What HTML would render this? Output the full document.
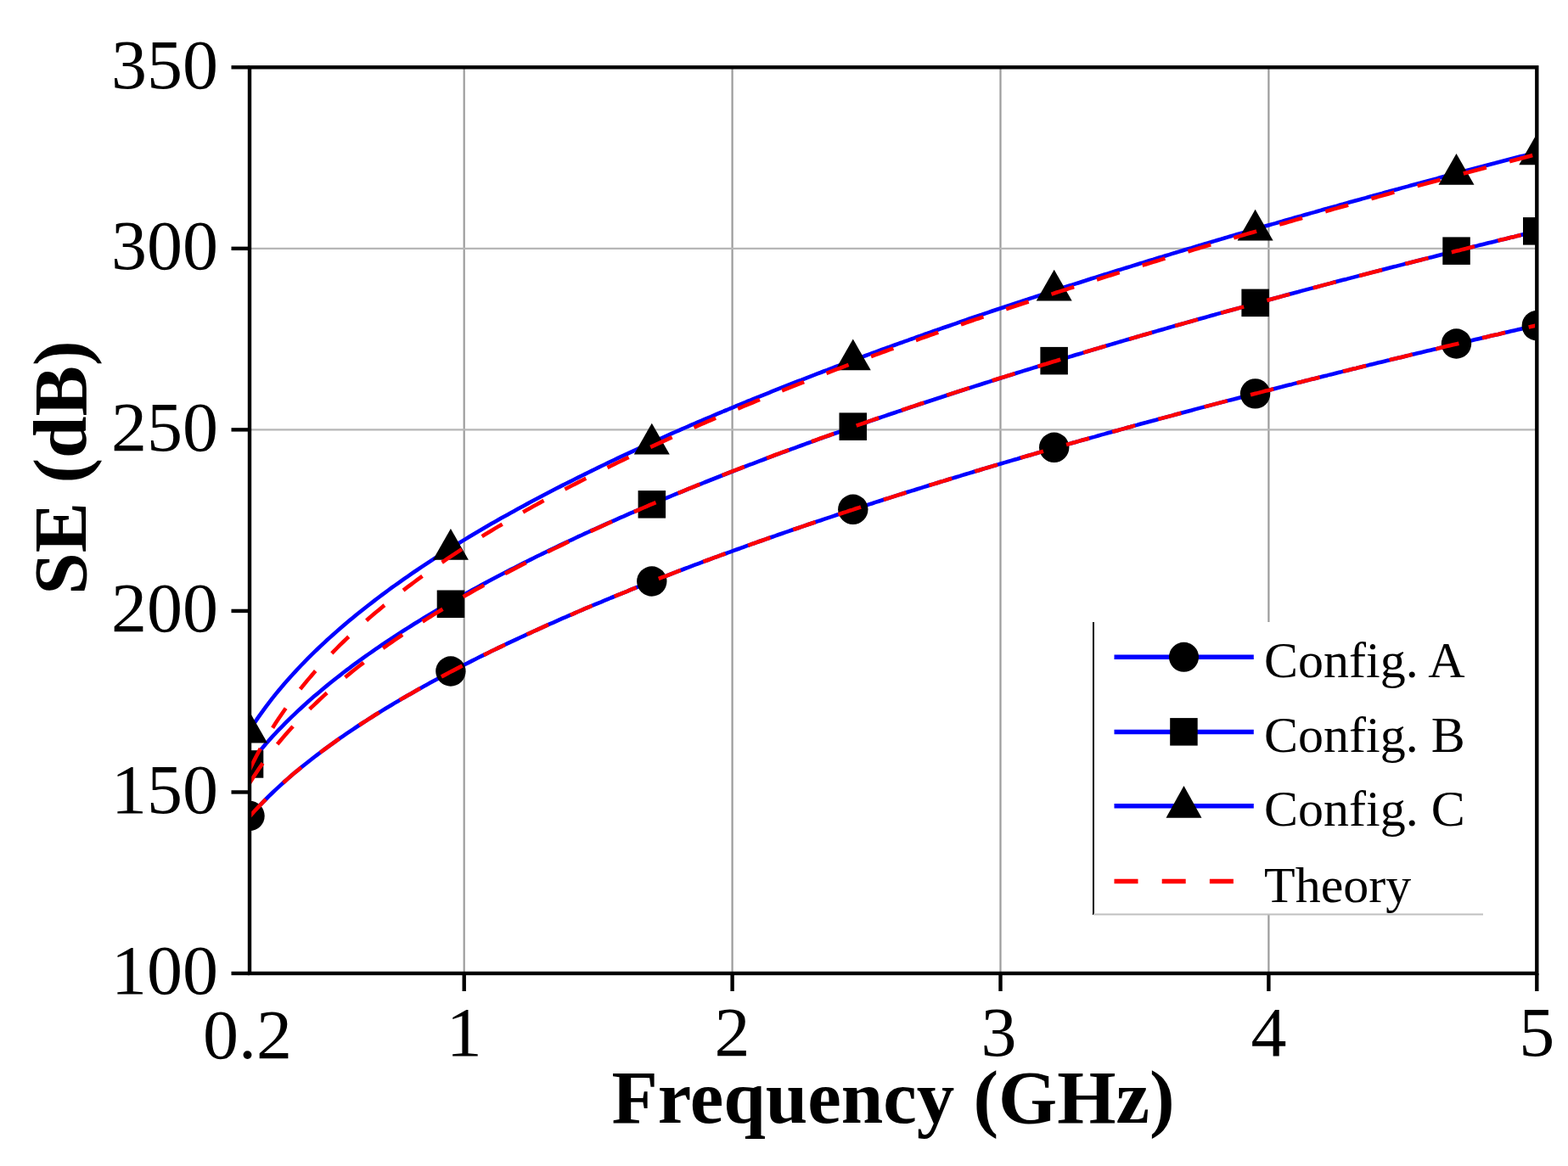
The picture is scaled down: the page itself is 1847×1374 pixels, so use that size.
<!DOCTYPE html>
<html><head><meta charset="utf-8"><title>SE vs Frequency</title>
<style>html,body{margin:0;padding:0;background:#fff;}body{width:1847px;height:1374px;overflow:hidden;}svg{display:block;}</style>
</head><body>
<svg width="1847" height="1374" viewBox="0 0 1847 1374">
<defs><clipPath id="pc"><rect x="294.0" y="79.3" width="1516.3" height="1067.7"/></clipPath></defs>
<rect width="1847" height="1374" fill="#fff"/>
<g stroke-width="2.2"><line x1="546.7" y1="79.3" x2="546.7" y2="1147.0" stroke="#9c9c9c"/><line x1="862.6" y1="79.3" x2="862.6" y2="1147.0" stroke="#9c9c9c"/><line x1="1178.5" y1="79.3" x2="1178.5" y2="1147.0" stroke="#9c9c9c"/><line x1="1494.4" y1="79.3" x2="1494.4" y2="1147.0" stroke="#9c9c9c"/><line x1="294.0" y1="506.4" x2="1810.3" y2="506.4" stroke="#b6b6b6"/><line x1="294.0" y1="292.8" x2="1810.3" y2="292.8" stroke="#b6b6b6"/></g>
<g clip-path="url(#pc)">
<g fill="none" stroke="#0000ff" stroke-width="4.6" stroke-linejoin="round">
<path d="M294.0,962.3 L297.8,958.0 L301.6,953.8 L305.4,949.8 L309.2,945.8 L313.0,942.0 L316.8,938.2 L320.6,934.5 L324.4,930.9 L328.2,927.4 L332.0,923.9 L335.8,920.5 L339.6,917.1 L343.4,913.8 L347.2,910.6 L351.0,907.4 L354.8,904.3 L358.6,901.2 L362.4,898.2 L366.2,895.2 L370.0,892.2 L373.8,889.3 L377.6,886.5 L381.4,883.6 L385.2,880.8 L389.0,878.1 L392.8,875.3 L396.6,872.6 L400.4,869.9 L404.2,867.3 L408.0,864.7 L411.8,862.1 L415.6,859.6 L419.4,857.0 L423.2,854.5 L427.0,852.0 L430.8,849.6 L434.6,847.1 L438.4,844.7 L442.2,842.3 L446.0,840.0 L449.8,837.6 L453.6,835.3 L457.4,833.0 L461.2,830.7 L465.0,828.4 L468.8,826.2 L472.6,823.9 L476.4,821.7 L480.2,819.5 L484.0,817.4 L487.8,815.2 L491.6,813.0 L495.4,810.9 L499.2,808.8 L503.0,806.7 L506.8,804.6 L510.6,802.5 L514.4,800.5 L518.2,798.4 L522.0,796.4 L525.8,794.4 L529.6,792.3 L533.4,790.4 L537.2,788.4 L541.0,786.4 L544.8,784.4 L548.6,782.5 L552.4,780.6 L556.2,778.6 L560.0,776.7 L563.8,774.8 L567.6,772.9 L571.4,771.1 L575.2,769.2 L579.0,767.3 L582.8,765.5 L586.6,763.6 L590.4,761.8 L594.2,760.0 L598.0,758.2 L601.8,756.4 L605.6,754.6 L609.4,752.8 L613.2,751.0 L617.0,749.3 L620.8,747.5 L624.6,745.8 L628.4,744.0 L632.2,742.3 L636.0,740.6 L639.8,738.9 L643.6,737.1 L647.4,735.4 L651.2,733.8 L655.0,732.1 L658.8,730.4 L662.6,728.7 L666.4,727.1 L670.2,725.4 L674.0,723.8 L677.8,722.1 L681.6,720.5 L685.4,718.9 L689.2,717.2 L693.0,715.6 L696.8,714.0 L700.6,712.4 L704.4,710.8 L708.2,709.3 L712.0,707.7 L715.8,706.1 L719.6,704.5 L723.4,703.0 L727.2,701.4 L731.0,699.9 L734.8,698.3 L738.6,696.8 L742.4,695.2 L746.2,693.7 L750.0,692.2 L753.8,690.7 L757.6,689.2 L761.4,687.7 L765.2,686.2 L769.0,684.7 L772.8,683.2 L776.6,681.7 L780.4,680.2 L784.2,678.8 L788.0,677.3 L791.8,675.8 L795.6,674.4 L799.4,672.9 L803.2,671.5 L807.0,670.0 L810.8,668.6 L814.6,667.1 L818.4,665.7 L822.2,664.3 L826.0,662.9 L829.8,661.4 L833.6,660.0 L837.4,658.6 L841.2,657.2 L845.0,655.8 L848.8,654.4 L852.6,653.0 L856.4,651.7 L860.2,650.3 L864.0,648.9 L867.8,647.5 L871.6,646.2 L875.4,644.8 L879.2,643.4 L883.0,642.1 L886.8,640.7 L890.6,639.4 L894.4,638.0 L898.2,636.7 L902.0,635.4 L905.8,634.0 L909.6,632.7 L913.4,631.4 L917.2,630.0 L921.0,628.7 L924.8,627.4 L928.6,626.1 L932.4,624.8 L936.2,623.5 L940.0,622.2 L943.8,620.9 L947.6,619.6 L951.4,618.3 L955.2,617.0 L959.0,615.7 L962.8,614.4 L966.6,613.2 L970.4,611.9 L974.2,610.6 L978.0,609.4 L981.8,608.1 L985.6,606.8 L989.4,605.6 L993.2,604.3 L997.0,603.1 L1000.8,601.8 L1004.6,600.6 L1008.4,599.3 L1012.2,598.1 L1016.0,596.8 L1019.8,595.6 L1023.6,594.4 L1027.4,593.2 L1031.2,591.9 L1035.0,590.7 L1038.8,589.5 L1042.6,588.3 L1046.4,587.1 L1050.2,585.9 L1054.1,584.6 L1057.9,583.4 L1061.7,582.2 L1065.5,581.0 L1069.3,579.8 L1073.1,578.6 L1076.9,577.5 L1080.7,576.3 L1084.5,575.1 L1088.3,573.9 L1092.1,572.7 L1095.9,571.5 L1099.7,570.4 L1103.5,569.2 L1107.3,568.0 L1111.1,566.9 L1114.9,565.7 L1118.7,564.5 L1122.5,563.4 L1126.3,562.2 L1130.1,561.1 L1133.9,559.9 L1137.7,558.7 L1141.5,557.6 L1145.3,556.5 L1149.1,555.3 L1152.9,554.2 L1156.7,553.0 L1160.5,551.9 L1164.3,550.8 L1168.1,549.6 L1171.9,548.5 L1175.7,547.4 L1179.5,546.2 L1183.3,545.1 L1187.1,544.0 L1190.9,542.9 L1194.7,541.8 L1198.5,540.7 L1202.3,539.5 L1206.1,538.4 L1209.9,537.3 L1213.7,536.2 L1217.5,535.1 L1221.3,534.0 L1225.1,532.9 L1228.9,531.8 L1232.7,530.7 L1236.5,529.6 L1240.3,528.5 L1244.1,527.5 L1247.9,526.4 L1251.7,525.3 L1255.5,524.2 L1259.3,523.1 L1263.1,522.0 L1266.9,521.0 L1270.7,519.9 L1274.5,518.8 L1278.3,517.8 L1282.1,516.7 L1285.9,515.6 L1289.7,514.6 L1293.5,513.5 L1297.3,512.4 L1301.1,511.4 L1304.9,510.3 L1308.7,509.3 L1312.5,508.2 L1316.3,507.2 L1320.1,506.1 L1323.9,505.1 L1327.7,504.0 L1331.5,503.0 L1335.3,501.9 L1339.1,500.9 L1342.9,499.8 L1346.7,498.8 L1350.5,497.8 L1354.3,496.7 L1358.1,495.7 L1361.9,494.7 L1365.7,493.6 L1369.5,492.6 L1373.3,491.6 L1377.1,490.6 L1380.9,489.6 L1384.7,488.5 L1388.5,487.5 L1392.3,486.5 L1396.1,485.5 L1399.9,484.5 L1403.7,483.5 L1407.5,482.4 L1411.3,481.4 L1415.1,480.4 L1418.9,479.4 L1422.7,478.4 L1426.5,477.4 L1430.3,476.4 L1434.1,475.4 L1437.9,474.4 L1441.7,473.4 L1445.5,472.4 L1449.3,471.4 L1453.1,470.5 L1456.9,469.5 L1460.7,468.5 L1464.5,467.5 L1468.3,466.5 L1472.1,465.5 L1475.9,464.5 L1479.7,463.6 L1483.5,462.6 L1487.3,461.6 L1491.1,460.6 L1494.9,459.7 L1498.7,458.7 L1502.5,457.7 L1506.3,456.7 L1510.1,455.8 L1513.9,454.8 L1517.7,453.8 L1521.5,452.9 L1525.3,451.9 L1529.1,450.9 L1532.9,450.0 L1536.7,449.0 L1540.5,448.1 L1544.3,447.1 L1548.1,446.2 L1551.9,445.2 L1555.7,444.3 L1559.5,443.3 L1563.3,442.4 L1567.1,441.4 L1570.9,440.5 L1574.7,439.5 L1578.5,438.6 L1582.3,437.6 L1586.1,436.7 L1589.9,435.7 L1593.7,434.8 L1597.5,433.9 L1601.3,432.9 L1605.1,432.0 L1608.9,431.1 L1612.7,430.1 L1616.5,429.2 L1620.3,428.3 L1624.1,427.3 L1627.9,426.4 L1631.7,425.5 L1635.5,424.6 L1639.3,423.6 L1643.1,422.7 L1646.9,421.8 L1650.7,420.9 L1654.5,420.0 L1658.3,419.1 L1662.1,418.1 L1665.9,417.2 L1669.7,416.3 L1673.5,415.4 L1677.3,414.5 L1681.1,413.6 L1684.9,412.7 L1688.7,411.8 L1692.5,410.9 L1696.3,409.9 L1700.1,409.0 L1703.9,408.1 L1707.7,407.2 L1711.5,406.3 L1715.3,405.4 L1719.1,404.5 L1722.9,403.6 L1726.7,402.7 L1730.5,401.9 L1734.3,401.0 L1738.1,400.1 L1741.9,399.2 L1745.7,398.3 L1749.5,397.4 L1753.3,396.5 L1757.1,395.6 L1760.9,394.7 L1764.7,393.9 L1768.5,393.0 L1772.3,392.1 L1776.1,391.2 L1779.9,390.3 L1783.7,389.4 L1787.5,388.6 L1791.3,387.7 L1795.1,386.8 L1798.9,385.9 L1802.7,385.1 L1806.5,384.2 L1810.3,383.3"/>
<path d="M294.0,900.2 L297.8,895.3 L301.6,890.5 L305.4,885.8 L309.2,881.3 L313.0,876.8 L316.8,872.5 L320.6,868.3 L324.4,864.2 L328.2,860.2 L332.0,856.3 L335.8,852.4 L339.6,848.6 L343.4,844.9 L347.2,841.3 L351.0,837.7 L354.8,834.2 L358.6,830.7 L362.4,827.3 L366.2,823.9 L370.0,820.6 L373.8,817.4 L377.6,814.2 L381.4,811.0 L385.2,807.9 L389.0,804.8 L392.8,801.7 L396.6,798.7 L400.4,795.8 L404.2,792.8 L408.0,789.9 L411.8,787.1 L415.6,784.2 L419.4,781.4 L423.2,778.7 L427.0,775.9 L430.8,773.2 L434.6,770.5 L438.4,767.8 L442.2,765.2 L446.0,762.6 L449.8,760.0 L453.6,757.4 L457.4,754.9 L461.2,752.4 L465.0,749.9 L468.8,747.4 L472.6,744.9 L476.4,742.5 L480.2,740.1 L484.0,737.7 L487.8,735.3 L491.6,733.0 L495.4,730.6 L499.2,728.3 L503.0,726.0 L506.8,723.7 L510.6,721.4 L514.4,719.2 L518.2,716.9 L522.0,714.7 L525.8,712.5 L529.6,710.3 L533.4,708.1 L537.2,706.0 L541.0,703.8 L544.8,701.7 L548.6,699.6 L552.4,697.4 L556.2,695.3 L560.0,693.3 L563.8,691.2 L567.6,689.1 L571.4,687.1 L575.2,685.0 L579.0,683.0 L582.8,681.0 L586.6,679.0 L590.4,677.0 L594.2,675.0 L598.0,673.1 L601.8,671.1 L605.6,669.2 L609.4,667.2 L613.2,665.3 L617.0,663.4 L620.8,661.5 L624.6,659.6 L628.4,657.7 L632.2,655.8 L636.0,654.0 L639.8,652.1 L643.6,650.2 L647.4,648.4 L651.2,646.6 L655.0,644.7 L658.8,642.9 L662.6,641.1 L666.4,639.3 L670.2,637.5 L674.0,635.8 L677.8,634.0 L681.6,632.2 L685.4,630.5 L689.2,628.7 L693.0,627.0 L696.8,625.2 L700.6,623.5 L704.4,621.8 L708.2,620.1 L712.0,618.4 L715.8,616.7 L719.6,615.0 L723.4,613.3 L727.2,611.6 L731.0,609.9 L734.8,608.3 L738.6,606.6 L742.4,604.9 L746.2,603.3 L750.0,601.7 L753.8,600.0 L757.6,598.4 L761.4,596.8 L765.2,595.2 L769.0,593.5 L772.8,591.9 L776.6,590.3 L780.4,588.7 L784.2,587.2 L788.0,585.6 L791.8,584.0 L795.6,582.4 L799.4,580.9 L803.2,579.3 L807.0,577.8 L810.8,576.2 L814.6,574.7 L818.4,573.1 L822.2,571.6 L826.0,570.1 L829.8,568.5 L833.6,567.0 L837.4,565.5 L841.2,564.0 L845.0,562.5 L848.8,561.0 L852.6,559.5 L856.4,558.0 L860.2,556.5 L864.0,555.1 L867.8,553.6 L871.6,552.1 L875.4,550.7 L879.2,549.2 L883.0,547.7 L886.8,546.3 L890.6,544.8 L894.4,543.4 L898.2,542.0 L902.0,540.5 L905.8,539.1 L909.6,537.7 L913.4,536.2 L917.2,534.8 L921.0,533.4 L924.8,532.0 L928.6,530.6 L932.4,529.2 L936.2,527.8 L940.0,526.4 L943.8,525.0 L947.6,523.6 L951.4,522.2 L955.2,520.9 L959.0,519.5 L962.8,518.1 L966.6,516.7 L970.4,515.4 L974.2,514.0 L978.0,512.7 L981.8,511.3 L985.6,510.0 L989.4,508.6 L993.2,507.3 L997.0,505.9 L1000.8,504.6 L1004.6,503.3 L1008.4,501.9 L1012.2,500.6 L1016.0,499.3 L1019.8,498.0 L1023.6,496.6 L1027.4,495.3 L1031.2,494.0 L1035.0,492.7 L1038.8,491.4 L1042.6,490.1 L1046.4,488.8 L1050.2,487.5 L1054.1,486.2 L1057.9,484.9 L1061.7,483.7 L1065.5,482.4 L1069.3,481.1 L1073.1,479.8 L1076.9,478.6 L1080.7,477.3 L1084.5,476.0 L1088.3,474.8 L1092.1,473.5 L1095.9,472.2 L1099.7,471.0 L1103.5,469.7 L1107.3,468.5 L1111.1,467.2 L1114.9,466.0 L1118.7,464.8 L1122.5,463.5 L1126.3,462.3 L1130.1,461.0 L1133.9,459.8 L1137.7,458.6 L1141.5,457.4 L1145.3,456.1 L1149.1,454.9 L1152.9,453.7 L1156.7,452.5 L1160.5,451.3 L1164.3,450.1 L1168.1,448.9 L1171.9,447.7 L1175.7,446.5 L1179.5,445.3 L1183.3,444.1 L1187.1,442.9 L1190.9,441.7 L1194.7,440.5 L1198.5,439.3 L1202.3,438.1 L1206.1,436.9 L1209.9,435.8 L1213.7,434.6 L1217.5,433.4 L1221.3,432.2 L1225.1,431.1 L1228.9,429.9 L1232.7,428.7 L1236.5,427.6 L1240.3,426.4 L1244.1,425.2 L1247.9,424.1 L1251.7,422.9 L1255.5,421.8 L1259.3,420.6 L1263.1,419.5 L1266.9,418.3 L1270.7,417.2 L1274.5,416.1 L1278.3,414.9 L1282.1,413.8 L1285.9,412.6 L1289.7,411.5 L1293.5,410.4 L1297.3,409.3 L1301.1,408.1 L1304.9,407.0 L1308.7,405.9 L1312.5,404.8 L1316.3,403.6 L1320.1,402.5 L1323.9,401.4 L1327.7,400.3 L1331.5,399.2 L1335.3,398.1 L1339.1,397.0 L1342.9,395.9 L1346.7,394.8 L1350.5,393.7 L1354.3,392.6 L1358.1,391.5 L1361.9,390.4 L1365.7,389.3 L1369.5,388.2 L1373.3,387.1 L1377.1,386.0 L1380.9,384.9 L1384.7,383.8 L1388.5,382.8 L1392.3,381.7 L1396.1,380.6 L1399.9,379.5 L1403.7,378.5 L1407.5,377.4 L1411.3,376.3 L1415.1,375.2 L1418.9,374.2 L1422.7,373.1 L1426.5,372.0 L1430.3,371.0 L1434.1,369.9 L1437.9,368.9 L1441.7,367.8 L1445.5,366.8 L1449.3,365.7 L1453.1,364.7 L1456.9,363.6 L1460.7,362.6 L1464.5,361.5 L1468.3,360.5 L1472.1,359.4 L1475.9,358.4 L1479.7,357.3 L1483.5,356.3 L1487.3,355.3 L1491.1,354.2 L1494.9,353.2 L1498.7,352.2 L1502.5,351.1 L1506.3,350.1 L1510.1,349.1 L1513.9,348.0 L1517.7,347.0 L1521.5,346.0 L1525.3,345.0 L1529.1,344.0 L1532.9,342.9 L1536.7,341.9 L1540.5,340.9 L1544.3,339.9 L1548.1,338.9 L1551.9,337.9 L1555.7,336.9 L1559.5,335.9 L1563.3,334.9 L1567.1,333.9 L1570.9,332.8 L1574.7,331.8 L1578.5,330.8 L1582.3,329.8 L1586.1,328.9 L1589.9,327.9 L1593.7,326.9 L1597.5,325.9 L1601.3,324.9 L1605.1,323.9 L1608.9,322.9 L1612.7,321.9 L1616.5,320.9 L1620.3,319.9 L1624.1,319.0 L1627.9,318.0 L1631.7,317.0 L1635.5,316.0 L1639.3,315.0 L1643.1,314.1 L1646.9,313.1 L1650.7,312.1 L1654.5,311.1 L1658.3,310.2 L1662.1,309.2 L1665.9,308.2 L1669.7,307.3 L1673.5,306.3 L1677.3,305.3 L1681.1,304.4 L1684.9,303.4 L1688.7,302.5 L1692.5,301.5 L1696.3,300.5 L1700.1,299.6 L1703.9,298.6 L1707.7,297.7 L1711.5,296.7 L1715.3,295.8 L1719.1,294.8 L1722.9,293.9 L1726.7,292.9 L1730.5,292.0 L1734.3,291.0 L1738.1,290.1 L1741.9,289.1 L1745.7,288.2 L1749.5,287.3 L1753.3,286.3 L1757.1,285.4 L1760.9,284.5 L1764.7,283.5 L1768.5,282.6 L1772.3,281.7 L1776.1,280.7 L1779.9,279.8 L1783.7,278.9 L1787.5,277.9 L1791.3,277.0 L1795.1,276.1 L1798.9,275.2 L1802.7,274.2 L1806.5,273.3 L1810.3,272.4"/>
<path d="M294.0,860.7 L297.8,854.8 L301.6,849.1 L305.4,843.6 L309.2,838.3 L313.0,833.1 L316.8,828.1 L320.6,823.2 L324.4,818.4 L328.2,813.8 L332.0,809.3 L335.8,804.8 L339.6,800.5 L343.4,796.2 L347.2,792.1 L351.0,788.0 L354.8,784.0 L358.6,780.1 L362.4,776.2 L366.2,772.4 L370.0,768.7 L373.8,765.0 L377.6,761.4 L381.4,757.8 L385.2,754.3 L389.0,750.9 L392.8,747.5 L396.6,744.1 L400.4,740.8 L404.2,737.5 L408.0,734.3 L411.8,731.1 L415.6,727.9 L419.4,724.8 L423.2,721.8 L427.0,718.7 L430.8,715.7 L434.6,712.7 L438.4,709.8 L442.2,706.9 L446.0,704.0 L449.8,701.1 L453.6,698.3 L457.4,695.5 L461.2,692.7 L465.0,690.0 L468.8,687.3 L472.6,684.6 L476.4,681.9 L480.2,679.3 L484.0,676.6 L487.8,674.0 L491.6,671.5 L495.4,668.9 L499.2,666.4 L503.0,663.8 L506.8,661.3 L510.6,658.9 L514.4,656.4 L518.2,654.0 L522.0,651.5 L525.8,649.1 L529.6,646.7 L533.4,644.4 L537.2,642.0 L541.0,639.7 L544.8,637.4 L548.6,635.1 L552.4,632.8 L556.2,630.5 L560.0,628.2 L563.8,626.0 L567.6,623.8 L571.4,621.5 L575.2,619.3 L579.0,617.1 L582.8,615.0 L586.6,612.8 L590.4,610.6 L594.2,608.5 L598.0,606.4 L601.8,604.3 L605.6,602.2 L609.4,600.1 L613.2,598.0 L617.0,595.9 L620.8,593.9 L624.6,591.8 L628.4,589.8 L632.2,587.8 L636.0,585.8 L639.8,583.8 L643.6,581.8 L647.4,579.8 L651.2,577.8 L655.0,575.8 L658.8,573.9 L662.6,571.9 L666.4,570.0 L670.2,568.1 L674.0,566.2 L677.8,564.3 L681.6,562.4 L685.4,560.5 L689.2,558.6 L693.0,556.7 L696.8,554.9 L700.6,553.0 L704.4,551.2 L708.2,549.3 L712.0,547.5 L715.8,545.7 L719.6,543.8 L723.4,542.0 L727.2,540.2 L731.0,538.4 L734.8,536.7 L738.6,534.9 L742.4,533.1 L746.2,531.3 L750.0,529.6 L753.8,527.8 L757.6,526.1 L761.4,524.4 L765.2,522.6 L769.0,520.9 L772.8,519.2 L776.6,517.5 L780.4,515.8 L784.2,514.1 L788.0,512.4 L791.8,510.7 L795.6,509.0 L799.4,507.4 L803.2,505.7 L807.0,504.0 L810.8,502.4 L814.6,500.7 L818.4,499.1 L822.2,497.4 L826.0,495.8 L829.8,494.2 L833.6,492.6 L837.4,491.0 L841.2,489.3 L845.0,487.7 L848.8,486.1 L852.6,484.5 L856.4,483.0 L860.2,481.4 L864.0,479.8 L867.8,478.2 L871.6,476.7 L875.4,475.1 L879.2,473.5 L883.0,472.0 L886.8,470.4 L890.6,468.9 L894.4,467.4 L898.2,465.8 L902.0,464.3 L905.8,462.8 L909.6,461.2 L913.4,459.7 L917.2,458.2 L921.0,456.7 L924.8,455.2 L928.6,453.7 L932.4,452.2 L936.2,450.7 L940.0,449.2 L943.8,447.8 L947.6,446.3 L951.4,444.8 L955.2,443.3 L959.0,441.9 L962.8,440.4 L966.6,439.0 L970.4,437.5 L974.2,436.1 L978.0,434.6 L981.8,433.2 L985.6,431.7 L989.4,430.3 L993.2,428.9 L997.0,427.5 L1000.8,426.0 L1004.6,424.6 L1008.4,423.2 L1012.2,421.8 L1016.0,420.4 L1019.8,419.0 L1023.6,417.6 L1027.4,416.2 L1031.2,414.8 L1035.0,413.4 L1038.8,412.0 L1042.6,410.6 L1046.4,409.3 L1050.2,407.9 L1054.1,406.5 L1057.9,405.1 L1061.7,403.8 L1065.5,402.4 L1069.3,401.1 L1073.1,399.7 L1076.9,398.4 L1080.7,397.0 L1084.5,395.7 L1088.3,394.3 L1092.1,393.0 L1095.9,391.6 L1099.7,390.3 L1103.5,389.0 L1107.3,387.6 L1111.1,386.3 L1114.9,385.0 L1118.7,383.7 L1122.5,382.4 L1126.3,381.1 L1130.1,379.7 L1133.9,378.4 L1137.7,377.1 L1141.5,375.8 L1145.3,374.5 L1149.1,373.2 L1152.9,371.9 L1156.7,370.7 L1160.5,369.4 L1164.3,368.1 L1168.1,366.8 L1171.9,365.5 L1175.7,364.2 L1179.5,363.0 L1183.3,361.7 L1187.1,360.4 L1190.9,359.2 L1194.7,357.9 L1198.5,356.6 L1202.3,355.4 L1206.1,354.1 L1209.9,352.9 L1213.7,351.6 L1217.5,350.4 L1221.3,349.1 L1225.1,347.9 L1228.9,346.7 L1232.7,345.4 L1236.5,344.2 L1240.3,343.0 L1244.1,341.7 L1247.9,340.5 L1251.7,339.3 L1255.5,338.0 L1259.3,336.8 L1263.1,335.6 L1266.9,334.4 L1270.7,333.2 L1274.5,332.0 L1278.3,330.8 L1282.1,329.5 L1285.9,328.3 L1289.7,327.1 L1293.5,325.9 L1297.3,324.7 L1301.1,323.5 L1304.9,322.4 L1308.7,321.2 L1312.5,320.0 L1316.3,318.8 L1320.1,317.6 L1323.9,316.4 L1327.7,315.2 L1331.5,314.1 L1335.3,312.9 L1339.1,311.7 L1342.9,310.5 L1346.7,309.4 L1350.5,308.2 L1354.3,307.0 L1358.1,305.9 L1361.9,304.7 L1365.7,303.5 L1369.5,302.4 L1373.3,301.2 L1377.1,300.1 L1380.9,298.9 L1384.7,297.8 L1388.5,296.6 L1392.3,295.5 L1396.1,294.3 L1399.9,293.2 L1403.7,292.1 L1407.5,290.9 L1411.3,289.8 L1415.1,288.6 L1418.9,287.5 L1422.7,286.4 L1426.5,285.3 L1430.3,284.1 L1434.1,283.0 L1437.9,281.9 L1441.7,280.8 L1445.5,279.6 L1449.3,278.5 L1453.1,277.4 L1456.9,276.3 L1460.7,275.2 L1464.5,274.1 L1468.3,273.0 L1472.1,271.9 L1475.9,270.7 L1479.7,269.6 L1483.5,268.5 L1487.3,267.4 L1491.1,266.3 L1494.9,265.2 L1498.7,264.1 L1502.5,263.1 L1506.3,262.0 L1510.1,260.9 L1513.9,259.8 L1517.7,258.7 L1521.5,257.6 L1525.3,256.5 L1529.1,255.4 L1532.9,254.4 L1536.7,253.3 L1540.5,252.2 L1544.3,251.1 L1548.1,250.1 L1551.9,249.0 L1555.7,247.9 L1559.5,246.8 L1563.3,245.8 L1567.1,244.7 L1570.9,243.6 L1574.7,242.6 L1578.5,241.5 L1582.3,240.5 L1586.1,239.4 L1589.9,238.3 L1593.7,237.3 L1597.5,236.2 L1601.3,235.2 L1605.1,234.1 L1608.9,233.1 L1612.7,232.0 L1616.5,231.0 L1620.3,229.9 L1624.1,228.9 L1627.9,227.9 L1631.7,226.8 L1635.5,225.8 L1639.3,224.7 L1643.1,223.7 L1646.9,222.7 L1650.7,221.6 L1654.5,220.6 L1658.3,219.6 L1662.1,218.5 L1665.9,217.5 L1669.7,216.5 L1673.5,215.5 L1677.3,214.4 L1681.1,213.4 L1684.9,212.4 L1688.7,211.4 L1692.5,210.4 L1696.3,209.3 L1700.1,208.3 L1703.9,207.3 L1707.7,206.3 L1711.5,205.3 L1715.3,204.3 L1719.1,203.3 L1722.9,202.3 L1726.7,201.3 L1730.5,200.2 L1734.3,199.2 L1738.1,198.2 L1741.9,197.2 L1745.7,196.2 L1749.5,195.2 L1753.3,194.2 L1757.1,193.2 L1760.9,192.3 L1764.7,191.3 L1768.5,190.3 L1772.3,189.3 L1776.1,188.3 L1779.9,187.3 L1783.7,186.3 L1787.5,185.3 L1791.3,184.3 L1795.1,183.4 L1798.9,182.4 L1802.7,181.4 L1806.5,180.4 L1810.3,179.4"/>
</g>
<g fill="#000"><circle cx="294.0" cy="961.4" r="17.7"/>
<circle cx="530.9" cy="791.0" r="17.7"/>
<circle cx="767.8" cy="685.0" r="17.7"/>
<circle cx="1004.8" cy="600.3" r="17.7"/>
<circle cx="1241.7" cy="527.3" r="17.7"/>
<circle cx="1478.6" cy="463.9" r="17.7"/>
<circle cx="1715.5" cy="405.0" r="17.7"/>
<circle cx="1810.3" cy="383.7" r="17.7"/><rect x="277.8" y="884.2" width="32.5" height="32.5"/>
<rect x="514.7" y="695.5" width="32.5" height="32.5"/>
<rect x="751.6" y="578.1" width="32.5" height="32.5"/>
<rect x="988.5" y="486.4" width="32.5" height="32.5"/>
<rect x="1225.4" y="408.9" width="32.5" height="32.5"/>
<rect x="1462.4" y="340.6" width="32.5" height="32.5"/>
<rect x="1699.3" y="279.4" width="32.5" height="32.5"/>
<rect x="1794.0" y="256.1" width="32.5" height="32.5"/><path d="M294.0,838.7 L315.0,875.5 L273.0,875.5 Z"/>
<path d="M530.9,622.9 L551.9,659.7 L509.9,659.7 Z"/>
<path d="M767.8,498.7 L788.8,535.5 L746.8,535.5 Z"/>
<path d="M1004.8,399.5 L1025.8,436.3 L983.8,436.3 Z"/>
<path d="M1241.7,317.7 L1262.7,354.5 L1220.7,354.5 Z"/>
<path d="M1478.6,246.8 L1499.6,283.6 L1457.6,283.6 Z"/>
<path d="M1715.5,180.9 L1736.5,217.7 L1694.5,217.7 Z"/>
<path d="M1810.3,157.4 L1831.3,194.2 L1789.3,194.2 Z"/></g>
<g fill="none" stroke="#ff0000" stroke-width="4.6" stroke-dasharray="28 28.2">
<path d="M294.0,962.3 L297.8,958.0 L301.6,953.8 L305.4,949.8 L309.2,945.8 L313.0,942.0 L316.8,938.2 L320.6,934.5 L324.4,930.9 L328.2,927.4 L332.0,923.9 L335.8,920.5 L339.6,917.1 L343.4,913.8 L347.2,910.6 L351.0,907.4 L354.8,904.3 L358.6,901.2 L362.4,898.2 L366.2,895.2 L370.0,892.2 L373.8,889.3 L377.6,886.5 L381.4,883.6 L385.2,880.8 L389.0,878.1 L392.8,875.3 L396.6,872.6 L400.4,869.9 L404.2,867.3 L408.0,864.7 L411.8,862.1 L415.6,859.6 L419.4,857.0 L423.2,854.5 L427.0,852.0 L430.8,849.6 L434.6,847.1 L438.4,844.7 L442.2,842.3 L446.0,840.0 L449.8,837.6 L453.6,835.3 L457.4,833.0 L461.2,830.7 L465.0,828.4 L468.8,826.2 L472.6,823.9 L476.4,821.7 L480.2,819.5 L484.0,817.4 L487.8,815.2 L491.6,813.0 L495.4,810.9 L499.2,808.8 L503.0,806.7 L506.8,804.6 L510.6,802.5 L514.4,800.5 L518.2,798.4 L522.0,796.4 L525.8,794.4 L529.6,792.3 L533.4,790.4 L537.2,788.4 L541.0,786.4 L544.8,784.4 L548.6,782.5 L552.4,780.6 L556.2,778.6 L560.0,776.7 L563.8,774.8 L567.6,772.9 L571.4,771.1 L575.2,769.2 L579.0,767.3 L582.8,765.5 L586.6,763.6 L590.4,761.8 L594.2,760.0 L598.0,758.2 L601.8,756.4 L605.6,754.6 L609.4,752.8 L613.2,751.0 L617.0,749.3 L620.8,747.5 L624.6,745.8 L628.4,744.0 L632.2,742.3 L636.0,740.6 L639.8,738.9 L643.6,737.1 L647.4,735.4 L651.2,733.8 L655.0,732.1 L658.8,730.4 L662.6,728.7 L666.4,727.1 L670.2,725.4 L674.0,723.8 L677.8,722.1 L681.6,720.5 L685.4,718.9 L689.2,717.2 L693.0,715.6 L696.8,714.0 L700.6,712.4 L704.4,710.8 L708.2,709.3 L712.0,707.7 L715.8,706.1 L719.6,704.5 L723.4,703.0 L727.2,701.4 L731.0,699.9 L734.8,698.3 L738.6,696.8 L742.4,695.2 L746.2,693.7 L750.0,692.2 L753.8,690.7 L757.6,689.2 L761.4,687.7 L765.2,686.2 L769.0,684.7 L772.8,683.2 L776.6,681.7 L780.4,680.2 L784.2,678.8 L788.0,677.3 L791.8,675.8 L795.6,674.4 L799.4,672.9 L803.2,671.5 L807.0,670.0 L810.8,668.6 L814.6,667.1 L818.4,665.7 L822.2,664.3 L826.0,662.9 L829.8,661.4 L833.6,660.0 L837.4,658.6 L841.2,657.2 L845.0,655.8 L848.8,654.4 L852.6,653.0 L856.4,651.7 L860.2,650.3 L864.0,648.9 L867.8,647.5 L871.6,646.2 L875.4,644.8 L879.2,643.4 L883.0,642.1 L886.8,640.7 L890.6,639.4 L894.4,638.0 L898.2,636.7 L902.0,635.4 L905.8,634.0 L909.6,632.7 L913.4,631.4 L917.2,630.0 L921.0,628.7 L924.8,627.4 L928.6,626.1 L932.4,624.8 L936.2,623.5 L940.0,622.2 L943.8,620.9 L947.6,619.6 L951.4,618.3 L955.2,617.0 L959.0,615.7 L962.8,614.4 L966.6,613.2 L970.4,611.9 L974.2,610.6 L978.0,609.4 L981.8,608.1 L985.6,606.8 L989.4,605.6 L993.2,604.3 L997.0,603.1 L1000.8,601.8 L1004.6,600.6 L1008.4,599.3 L1012.2,598.1 L1016.0,596.8 L1019.8,595.6 L1023.6,594.4 L1027.4,593.2 L1031.2,591.9 L1035.0,590.7 L1038.8,589.5 L1042.6,588.3 L1046.4,587.1 L1050.2,585.9 L1054.1,584.6 L1057.9,583.4 L1061.7,582.2 L1065.5,581.0 L1069.3,579.8 L1073.1,578.6 L1076.9,577.5 L1080.7,576.3 L1084.5,575.1 L1088.3,573.9 L1092.1,572.7 L1095.9,571.5 L1099.7,570.4 L1103.5,569.2 L1107.3,568.0 L1111.1,566.9 L1114.9,565.7 L1118.7,564.5 L1122.5,563.4 L1126.3,562.2 L1130.1,561.1 L1133.9,559.9 L1137.7,558.7 L1141.5,557.6 L1145.3,556.5 L1149.1,555.3 L1152.9,554.2 L1156.7,553.0 L1160.5,551.9 L1164.3,550.8 L1168.1,549.6 L1171.9,548.5 L1175.7,547.4 L1179.5,546.2 L1183.3,545.1 L1187.1,544.0 L1190.9,542.9 L1194.7,541.8 L1198.5,540.7 L1202.3,539.5 L1206.1,538.4 L1209.9,537.3 L1213.7,536.2 L1217.5,535.1 L1221.3,534.0 L1225.1,532.9 L1228.9,531.8 L1232.7,530.7 L1236.5,529.6 L1240.3,528.5 L1244.1,527.5 L1247.9,526.4 L1251.7,525.3 L1255.5,524.2 L1259.3,523.1 L1263.1,522.0 L1266.9,521.0 L1270.7,519.9 L1274.5,518.8 L1278.3,517.8 L1282.1,516.7 L1285.9,515.6 L1289.7,514.6 L1293.5,513.5 L1297.3,512.4 L1301.1,511.4 L1304.9,510.3 L1308.7,509.3 L1312.5,508.2 L1316.3,507.2 L1320.1,506.1 L1323.9,505.1 L1327.7,504.0 L1331.5,503.0 L1335.3,501.9 L1339.1,500.9 L1342.9,499.8 L1346.7,498.8 L1350.5,497.8 L1354.3,496.7 L1358.1,495.7 L1361.9,494.7 L1365.7,493.6 L1369.5,492.6 L1373.3,491.6 L1377.1,490.6 L1380.9,489.6 L1384.7,488.5 L1388.5,487.5 L1392.3,486.5 L1396.1,485.5 L1399.9,484.5 L1403.7,483.5 L1407.5,482.4 L1411.3,481.4 L1415.1,480.4 L1418.9,479.4 L1422.7,478.4 L1426.5,477.4 L1430.3,476.4 L1434.1,475.4 L1437.9,474.4 L1441.7,473.4 L1445.5,472.4 L1449.3,471.4 L1453.1,470.5 L1456.9,469.5 L1460.7,468.5 L1464.5,467.5 L1468.3,466.5 L1472.1,465.5 L1475.9,464.5 L1479.7,463.6 L1483.5,462.6 L1487.3,461.6 L1491.1,460.6 L1494.9,459.7 L1498.7,458.7 L1502.5,457.7 L1506.3,456.7 L1510.1,455.8 L1513.9,454.8 L1517.7,453.8 L1521.5,452.9 L1525.3,451.9 L1529.1,450.9 L1532.9,450.0 L1536.7,449.0 L1540.5,448.1 L1544.3,447.1 L1548.1,446.2 L1551.9,445.2 L1555.7,444.3 L1559.5,443.3 L1563.3,442.4 L1567.1,441.4 L1570.9,440.5 L1574.7,439.5 L1578.5,438.6 L1582.3,437.6 L1586.1,436.7 L1589.9,435.7 L1593.7,434.8 L1597.5,433.9 L1601.3,432.9 L1605.1,432.0 L1608.9,431.1 L1612.7,430.1 L1616.5,429.2 L1620.3,428.3 L1624.1,427.3 L1627.9,426.4 L1631.7,425.5 L1635.5,424.6 L1639.3,423.6 L1643.1,422.7 L1646.9,421.8 L1650.7,420.9 L1654.5,420.0 L1658.3,419.1 L1662.1,418.1 L1665.9,417.2 L1669.7,416.3 L1673.5,415.4 L1677.3,414.5 L1681.1,413.6 L1684.9,412.7 L1688.7,411.8 L1692.5,410.9 L1696.3,409.9 L1700.1,409.0 L1703.9,408.1 L1707.7,407.2 L1711.5,406.3 L1715.3,405.4 L1719.1,404.5 L1722.9,403.6 L1726.7,402.7 L1730.5,401.9 L1734.3,401.0 L1738.1,400.1 L1741.9,399.2 L1745.7,398.3 L1749.5,397.4 L1753.3,396.5 L1757.1,395.6 L1760.9,394.7 L1764.7,393.9 L1768.5,393.0 L1772.3,392.1 L1776.1,391.2 L1779.9,390.3 L1783.7,389.4 L1787.5,388.6 L1791.3,387.7 L1795.1,386.8 L1798.9,385.9 L1802.7,385.1 L1806.5,384.2 L1810.3,383.3"/>
<path d="M294.0,922.7 L297.8,916.7 L301.6,910.9 L305.4,905.3 L309.2,899.9 L313.0,894.7 L316.8,889.6 L320.6,884.7 L324.4,879.9 L328.2,875.2 L332.0,870.7 L335.8,866.3 L339.6,862.0 L343.4,857.8 L347.2,853.6 L351.0,849.6 L354.8,845.6 L358.6,841.8 L362.4,838.0 L366.2,834.2 L370.0,830.6 L373.8,827.0 L377.6,823.4 L381.4,819.9 L385.2,816.5 L389.0,813.1 L392.8,809.8 L396.6,806.5 L400.4,803.3 L404.2,800.1 L408.0,797.0 L411.8,793.9 L415.6,790.8 L419.4,787.8 L423.2,784.8 L427.0,781.9 L430.8,779.0 L434.6,776.1 L438.4,773.3 L442.2,770.4 L446.0,767.7 L449.8,764.9 L453.6,762.2 L457.4,759.5 L461.2,756.8 L465.0,754.2 L468.8,751.6 L472.6,749.0 L476.4,746.4 L480.2,743.9 L484.0,741.4 L487.8,738.9 L491.6,736.4 L495.4,734.0 L499.2,731.5 L503.0,729.1 L506.8,726.7 L510.6,724.4 L514.4,722.0 L518.2,719.7 L522.0,717.4 L525.8,715.1 L529.6,712.8 L533.4,710.5 L537.2,708.3 L541.0,706.1 L544.8,703.8 L548.6,701.6 L552.4,699.5 L556.2,697.3 L560.0,695.1 L563.8,693.0 L567.6,690.9 L571.4,688.8 L575.2,686.7 L579.0,684.6 L582.8,682.5 L586.6,680.5 L590.4,678.4 L594.2,676.4 L598.0,674.4 L601.8,672.4 L605.6,670.4 L609.4,668.4 L613.2,666.4 L617.0,664.5 L620.8,662.5 L624.6,660.6 L628.4,658.7 L632.2,656.7 L636.0,654.8 L639.8,652.9 L643.6,651.1 L647.4,649.2 L651.2,647.3 L655.0,645.5 L658.8,643.6 L662.6,641.8 L666.4,639.9 L670.2,638.1 L674.0,636.3 L677.8,634.5 L681.6,632.7 L685.4,630.9 L689.2,629.2 L693.0,627.4 L696.8,625.6 L700.6,623.9 L704.4,622.1 L708.2,620.4 L712.0,618.7 L715.8,617.0 L719.6,615.2 L723.4,613.5 L727.2,611.8 L731.0,610.1 L734.8,608.5 L738.6,606.8 L742.4,605.1 L746.2,603.5 L750.0,601.8 L753.8,600.1 L757.6,598.5 L761.4,596.9 L765.2,595.2 L769.0,593.6 L772.8,592.0 L776.6,590.4 L780.4,588.8 L784.2,587.2 L788.0,585.6 L791.8,584.0 L795.6,582.4 L799.4,580.8 L803.2,579.3 L807.0,577.7 L810.8,576.2 L814.6,574.6 L818.4,573.1 L822.2,571.5 L826.0,570.0 L829.8,568.5 L833.6,566.9 L837.4,565.4 L841.2,563.9 L845.0,562.4 L848.8,560.9 L852.6,559.4 L856.4,557.9 L860.2,556.4 L864.0,554.9 L867.8,553.4 L871.6,552.0 L875.4,550.5 L879.2,549.0 L883.0,547.6 L886.8,546.1 L890.6,544.7 L894.4,543.2 L898.2,541.8 L902.0,540.3 L905.8,538.9 L909.6,537.5 L913.4,536.0 L917.2,534.6 L921.0,533.2 L924.8,531.8 L928.6,530.4 L932.4,529.0 L936.2,527.6 L940.0,526.2 L943.8,524.8 L947.6,523.4 L951.4,522.0 L955.2,520.6 L959.0,519.3 L962.8,517.9 L966.6,516.5 L970.4,515.2 L974.2,513.8 L978.0,512.5 L981.8,511.1 L985.6,509.7 L989.4,508.4 L993.2,507.1 L997.0,505.7 L1000.8,504.4 L1004.6,503.1 L1008.4,501.7 L1012.2,500.4 L1016.0,499.1 L1019.8,497.8 L1023.6,496.4 L1027.4,495.1 L1031.2,493.8 L1035.0,492.5 L1038.8,491.2 L1042.6,489.9 L1046.4,488.6 L1050.2,487.3 L1054.1,486.0 L1057.9,484.8 L1061.7,483.5 L1065.5,482.2 L1069.3,480.9 L1073.1,479.6 L1076.9,478.4 L1080.7,477.1 L1084.5,475.8 L1088.3,474.6 L1092.1,473.3 L1095.9,472.1 L1099.7,470.8 L1103.5,469.6 L1107.3,468.3 L1111.1,467.1 L1114.9,465.8 L1118.7,464.6 L1122.5,463.4 L1126.3,462.1 L1130.1,460.9 L1133.9,459.7 L1137.7,458.4 L1141.5,457.2 L1145.3,456.0 L1149.1,454.8 L1152.9,453.6 L1156.7,452.4 L1160.5,451.2 L1164.3,449.9 L1168.1,448.7 L1171.9,447.5 L1175.7,446.3 L1179.5,445.1 L1183.3,444.0 L1187.1,442.8 L1190.9,441.6 L1194.7,440.4 L1198.5,439.2 L1202.3,438.0 L1206.1,436.8 L1209.9,435.7 L1213.7,434.5 L1217.5,433.3 L1221.3,432.2 L1225.1,431.0 L1228.9,429.8 L1232.7,428.7 L1236.5,427.5 L1240.3,426.3 L1244.1,425.2 L1247.9,424.0 L1251.7,422.9 L1255.5,421.7 L1259.3,420.6 L1263.1,419.4 L1266.9,418.3 L1270.7,417.2 L1274.5,416.0 L1278.3,414.9 L1282.1,413.7 L1285.9,412.6 L1289.7,411.5 L1293.5,410.4 L1297.3,409.2 L1301.1,408.1 L1304.9,407.0 L1308.7,405.9 L1312.5,404.7 L1316.3,403.6 L1320.1,402.5 L1323.9,401.4 L1327.7,400.3 L1331.5,399.2 L1335.3,398.1 L1339.1,397.0 L1342.9,395.9 L1346.7,394.8 L1350.5,393.7 L1354.3,392.6 L1358.1,391.5 L1361.9,390.4 L1365.7,389.3 L1369.5,388.2 L1373.3,387.1 L1377.1,386.0 L1380.9,385.0 L1384.7,383.9 L1388.5,382.8 L1392.3,381.7 L1396.1,380.6 L1399.9,379.6 L1403.7,378.5 L1407.5,377.4 L1411.3,376.4 L1415.1,375.3 L1418.9,374.2 L1422.7,373.2 L1426.5,372.1 L1430.3,371.0 L1434.1,370.0 L1437.9,368.9 L1441.7,367.9 L1445.5,366.8 L1449.3,365.8 L1453.1,364.7 L1456.9,363.7 L1460.7,362.6 L1464.5,361.6 L1468.3,360.5 L1472.1,359.5 L1475.9,358.4 L1479.7,357.4 L1483.5,356.4 L1487.3,355.3 L1491.1,354.3 L1494.9,353.3 L1498.7,352.2 L1502.5,351.2 L1506.3,350.2 L1510.1,349.1 L1513.9,348.1 L1517.7,347.1 L1521.5,346.1 L1525.3,345.1 L1529.1,344.0 L1532.9,343.0 L1536.7,342.0 L1540.5,341.0 L1544.3,340.0 L1548.1,339.0 L1551.9,338.0 L1555.7,336.9 L1559.5,335.9 L1563.3,334.9 L1567.1,333.9 L1570.9,332.9 L1574.7,331.9 L1578.5,330.9 L1582.3,329.9 L1586.1,328.9 L1589.9,327.9 L1593.7,326.9 L1597.5,325.9 L1601.3,325.0 L1605.1,324.0 L1608.9,323.0 L1612.7,322.0 L1616.5,321.0 L1620.3,320.0 L1624.1,319.0 L1627.9,318.0 L1631.7,317.1 L1635.5,316.1 L1639.3,315.1 L1643.1,314.1 L1646.9,313.2 L1650.7,312.2 L1654.5,311.2 L1658.3,310.2 L1662.1,309.3 L1665.9,308.3 L1669.7,307.3 L1673.5,306.4 L1677.3,305.4 L1681.1,304.4 L1684.9,303.5 L1688.7,302.5 L1692.5,301.5 L1696.3,300.6 L1700.1,299.6 L1703.9,298.7 L1707.7,297.7 L1711.5,296.8 L1715.3,295.8 L1719.1,294.9 L1722.9,293.9 L1726.7,293.0 L1730.5,292.0 L1734.3,291.1 L1738.1,290.1 L1741.9,289.2 L1745.7,288.2 L1749.5,287.3 L1753.3,286.3 L1757.1,285.4 L1760.9,284.5 L1764.7,283.5 L1768.5,282.6 L1772.3,281.7 L1776.1,280.7 L1779.9,279.8 L1783.7,278.9 L1787.5,277.9 L1791.3,277.0 L1795.1,276.1 L1798.9,275.1 L1802.7,274.2 L1806.5,273.3 L1810.3,272.4"/>
<path d="M294.0,907.0 L297.8,899.2 L301.6,891.7 L305.4,884.6 L309.2,877.7 L313.0,871.1 L316.8,864.7 L320.6,858.6 L324.4,852.6 L328.2,846.8 L332.0,841.2 L335.8,835.8 L339.6,830.5 L343.4,825.4 L347.2,820.3 L351.0,815.4 L354.8,810.6 L358.6,806.0 L362.4,801.4 L366.2,796.9 L370.0,792.5 L373.8,788.2 L377.6,784.0 L381.4,779.9 L385.2,775.8 L389.0,771.8 L392.8,767.9 L396.6,764.0 L400.4,760.2 L404.2,756.5 L408.0,752.8 L411.8,749.2 L415.6,745.7 L419.4,742.1 L423.2,738.7 L427.0,735.3 L430.8,731.9 L434.6,728.6 L438.4,725.3 L442.2,722.1 L446.0,718.9 L449.8,715.7 L453.6,712.6 L457.4,709.5 L461.2,706.4 L465.0,703.4 L468.8,700.5 L472.6,697.5 L476.4,694.6 L480.2,691.7 L484.0,688.8 L487.8,686.0 L491.6,683.2 L495.4,680.4 L499.2,677.7 L503.0,675.0 L506.8,672.3 L510.6,669.6 L514.4,667.0 L518.2,664.4 L522.0,661.8 L525.8,659.2 L529.6,656.6 L533.4,654.1 L537.2,651.6 L541.0,649.1 L544.8,646.6 L548.6,644.2 L552.4,641.7 L556.2,639.3 L560.0,636.9 L563.8,634.5 L567.6,632.2 L571.4,629.8 L575.2,627.5 L579.0,625.2 L582.8,622.9 L586.6,620.6 L590.4,618.4 L594.2,616.1 L598.0,613.9 L601.8,611.7 L605.6,609.5 L609.4,607.3 L613.2,605.1 L617.0,603.0 L620.8,600.8 L624.6,598.7 L628.4,596.6 L632.2,594.4 L636.0,592.4 L639.8,590.3 L643.6,588.2 L647.4,586.1 L651.2,584.1 L655.0,582.1 L658.8,580.0 L662.6,578.0 L666.4,576.0 L670.2,574.0 L674.0,572.0 L677.8,570.1 L681.6,568.1 L685.4,566.2 L689.2,564.2 L693.0,562.3 L696.8,560.4 L700.6,558.5 L704.4,556.6 L708.2,554.7 L712.0,552.8 L715.8,550.9 L719.6,549.0 L723.4,547.2 L727.2,545.3 L731.0,543.5 L734.8,541.7 L738.6,539.8 L742.4,538.0 L746.2,536.2 L750.0,534.4 L753.8,532.6 L757.6,530.9 L761.4,529.1 L765.2,527.3 L769.0,525.6 L772.8,523.8 L776.6,522.1 L780.4,520.3 L784.2,518.6 L788.0,516.9 L791.8,515.1 L795.6,513.4 L799.4,511.7 L803.2,510.0 L807.0,508.4 L810.8,506.7 L814.6,505.0 L818.4,503.3 L822.2,501.7 L826.0,500.0 L829.8,498.3 L833.6,496.7 L837.4,495.1 L841.2,493.4 L845.0,491.8 L848.8,490.2 L852.6,488.6 L856.4,487.0 L860.2,485.4 L864.0,483.8 L867.8,482.2 L871.6,480.6 L875.4,479.0 L879.2,477.4 L883.0,475.8 L886.8,474.3 L890.6,472.7 L894.4,471.2 L898.2,469.6 L902.0,468.1 L905.8,466.5 L909.6,465.0 L913.4,463.5 L917.2,461.9 L921.0,460.4 L924.8,458.9 L928.6,457.4 L932.4,455.9 L936.2,454.4 L940.0,452.9 L943.8,451.4 L947.6,449.9 L951.4,448.4 L955.2,446.9 L959.0,445.4 L962.8,444.0 L966.6,442.5 L970.4,441.0 L974.2,439.6 L978.0,438.1 L981.8,436.7 L985.6,435.2 L989.4,433.8 L993.2,432.3 L997.0,430.9 L1000.8,429.5 L1004.6,428.1 L1008.4,426.6 L1012.2,425.2 L1016.0,423.8 L1019.8,422.4 L1023.6,421.0 L1027.4,419.6 L1031.2,418.2 L1035.0,416.8 L1038.8,415.4 L1042.6,414.0 L1046.4,412.6 L1050.2,411.2 L1054.1,409.9 L1057.9,408.5 L1061.7,407.1 L1065.5,405.7 L1069.3,404.4 L1073.1,403.0 L1076.9,401.7 L1080.7,400.3 L1084.5,398.9 L1088.3,397.6 L1092.1,396.3 L1095.9,394.9 L1099.7,393.6 L1103.5,392.2 L1107.3,390.9 L1111.1,389.6 L1114.9,388.2 L1118.7,386.9 L1122.5,385.6 L1126.3,384.3 L1130.1,383.0 L1133.9,381.7 L1137.7,380.4 L1141.5,379.0 L1145.3,377.7 L1149.1,376.4 L1152.9,375.2 L1156.7,373.9 L1160.5,372.6 L1164.3,371.3 L1168.1,370.0 L1171.9,368.7 L1175.7,367.4 L1179.5,366.2 L1183.3,364.9 L1187.1,363.6 L1190.9,362.3 L1194.7,361.1 L1198.5,359.8 L1202.3,358.5 L1206.1,357.3 L1209.9,356.0 L1213.7,354.8 L1217.5,353.5 L1221.3,352.3 L1225.1,351.0 L1228.9,349.8 L1232.7,348.6 L1236.5,347.3 L1240.3,346.1 L1244.1,344.8 L1247.9,343.6 L1251.7,342.4 L1255.5,341.2 L1259.3,339.9 L1263.1,338.7 L1266.9,337.5 L1270.7,336.3 L1274.5,335.1 L1278.3,333.9 L1282.1,332.6 L1285.9,331.4 L1289.7,330.2 L1293.5,329.0 L1297.3,327.8 L1301.1,326.6 L1304.9,325.4 L1308.7,324.2 L1312.5,323.0 L1316.3,321.9 L1320.1,320.7 L1323.9,319.5 L1327.7,318.3 L1331.5,317.1 L1335.3,315.9 L1339.1,314.8 L1342.9,313.6 L1346.7,312.4 L1350.5,311.2 L1354.3,310.1 L1358.1,308.9 L1361.9,307.7 L1365.7,306.6 L1369.5,305.4 L1373.3,304.3 L1377.1,303.1 L1380.9,301.9 L1384.7,300.8 L1388.5,299.6 L1392.3,298.5 L1396.1,297.3 L1399.9,296.2 L1403.7,295.1 L1407.5,293.9 L1411.3,292.8 L1415.1,291.6 L1418.9,290.5 L1422.7,289.4 L1426.5,288.2 L1430.3,287.1 L1434.1,286.0 L1437.9,284.8 L1441.7,283.7 L1445.5,282.6 L1449.3,281.5 L1453.1,280.4 L1456.9,279.2 L1460.7,278.1 L1464.5,277.0 L1468.3,275.9 L1472.1,274.8 L1475.9,273.7 L1479.7,272.6 L1483.5,271.5 L1487.3,270.3 L1491.1,269.2 L1494.9,268.1 L1498.7,267.0 L1502.5,265.9 L1506.3,264.8 L1510.1,263.8 L1513.9,262.7 L1517.7,261.6 L1521.5,260.5 L1525.3,259.4 L1529.1,258.3 L1532.9,257.2 L1536.7,256.1 L1540.5,255.1 L1544.3,254.0 L1548.1,252.9 L1551.9,251.8 L1555.7,250.7 L1559.5,249.7 L1563.3,248.6 L1567.1,247.5 L1570.9,246.4 L1574.7,245.4 L1578.5,244.3 L1582.3,243.2 L1586.1,242.2 L1589.9,241.1 L1593.7,240.1 L1597.5,239.0 L1601.3,237.9 L1605.1,236.9 L1608.9,235.8 L1612.7,234.8 L1616.5,233.7 L1620.3,232.7 L1624.1,231.6 L1627.9,230.6 L1631.7,229.5 L1635.5,228.5 L1639.3,227.4 L1643.1,226.4 L1646.9,225.3 L1650.7,224.3 L1654.5,223.3 L1658.3,222.2 L1662.1,221.2 L1665.9,220.2 L1669.7,219.1 L1673.5,218.1 L1677.3,217.1 L1681.1,216.0 L1684.9,215.0 L1688.7,214.0 L1692.5,213.0 L1696.3,211.9 L1700.1,210.9 L1703.9,209.9 L1707.7,208.9 L1711.5,207.8 L1715.3,206.8 L1719.1,205.8 L1722.9,204.8 L1726.7,203.8 L1730.5,202.8 L1734.3,201.7 L1738.1,200.7 L1741.9,199.7 L1745.7,198.7 L1749.5,197.7 L1753.3,196.7 L1757.1,195.7 L1760.9,194.7 L1764.7,193.7 L1768.5,192.7 L1772.3,191.7 L1776.1,190.7 L1779.9,189.7 L1783.7,188.7 L1787.5,187.7 L1791.3,186.7 L1795.1,185.7 L1798.9,184.7 L1802.7,183.7 L1806.5,182.7 L1810.3,181.8"/>
</g>
</g>
<g stroke="#000" stroke-width="4.4" fill="none" stroke-linecap="butt">
<rect x="294.0" y="79.3" width="1516.3" height="1067.7"/>
<line x1="272.5" y1="1147.00" x2="294.0" y2="1147.00"/>
<line x1="272.5" y1="933.46" x2="294.0" y2="933.46"/>
<line x1="272.5" y1="719.92" x2="294.0" y2="719.92"/>
<line x1="272.5" y1="506.38" x2="294.0" y2="506.38"/>
<line x1="272.5" y1="292.84" x2="294.0" y2="292.84"/>
<line x1="272.5" y1="79.30" x2="294.0" y2="79.30"/>
<line x1="546.72" y1="1147.0" x2="546.72" y2="1168.0"/>
<line x1="862.61" y1="1147.0" x2="862.61" y2="1168.0"/>
<line x1="1178.51" y1="1147.0" x2="1178.51" y2="1168.0"/>
<line x1="1494.40" y1="1147.0" x2="1494.40" y2="1168.0"/>
<line x1="1810.30" y1="1147.0" x2="1810.30" y2="1168.0"/>
</g>
<g font-family="'Liberation Serif','Times New Roman',serif" font-size="84" fill="#000">
<text transform="translate(257,1171.2) scale(1,0.975)" text-anchor="end">100</text>
<text transform="translate(257,957.7) scale(1,0.975)" text-anchor="end">150</text>
<text transform="translate(257,744.1) scale(1,0.975)" text-anchor="end">200</text>
<text transform="translate(257,530.6) scale(1,0.975)" text-anchor="end">250</text>
<text transform="translate(257,317.0) scale(1,0.975)" text-anchor="end">300</text>
<text transform="translate(257,103.5) scale(1,0.975)" text-anchor="end">350</text>
<text transform="translate(291.5,1246.8) scale(1,0.975)" text-anchor="middle">0.2</text>
<text transform="translate(546.7,1243.8) scale(1,0.975)" text-anchor="middle">1</text>
<text transform="translate(862.6,1243.8) scale(1,0.975)" text-anchor="middle">2</text>
<text transform="translate(1176.5,1243.8) scale(1,0.975)" text-anchor="middle">3</text>
<text transform="translate(1494.4,1243.8) scale(1,0.975)" text-anchor="middle">4</text>
<text transform="translate(1810.3,1243.8) scale(1,0.975)" text-anchor="middle">5</text>
</g>
<text x="1052.0" y="1322.6" font-family="'Liberation Serif','Times New Roman',serif" font-weight="bold" font-size="89" text-anchor="middle">Frequency (GHz)</text>
<text transform="translate(101,551) rotate(-90)" font-family="'Liberation Serif','Times New Roman',serif" font-weight="bold" font-size="89" text-anchor="middle">SE (dB)</text>
<rect x="1288" y="733" width="459" height="345" fill="#fff"/>
<line x1="1288" y1="733" x2="1288" y2="1078" stroke="#000" stroke-width="2"/>
<line x1="1288" y1="1077.5" x2="1747" y2="1077.5" stroke="#c0c0c0" stroke-width="2"/>
<line x1="1312.5" y1="774.3" x2="1476.8" y2="774.3" stroke="#0000ff" stroke-width="5.5"/>
<line x1="1312.5" y1="862.4" x2="1476.8" y2="862.4" stroke="#0000ff" stroke-width="5.5"/>
<line x1="1312.5" y1="949.7" x2="1476.8" y2="949.7" stroke="#0000ff" stroke-width="5.5"/>
<circle cx="1394.5" cy="774.3" r="17.5"/>
<rect x="1378.2" y="846.1" width="32.5" height="32.5"/>
<path d="M1394.5,926.0 L1415.5,963.7 L1373.5,963.7 Z"/>
<line x1="1312.5" y1="1038.5" x2="1476.8" y2="1038.5" stroke="#ff0000" stroke-width="5.5" stroke-dasharray="28 28.2"/>
<g font-family="'Liberation Serif','Times New Roman',serif" font-size="60" fill="#000">
<text x="1489" y="798.0">Config. A</text>
<text x="1489" y="885.6">Config. B</text>
<text x="1489" y="973.0">Config. C</text>
<text x="1489" y="1062.5">Theory</text>
</g>
</svg>
</body></html>
